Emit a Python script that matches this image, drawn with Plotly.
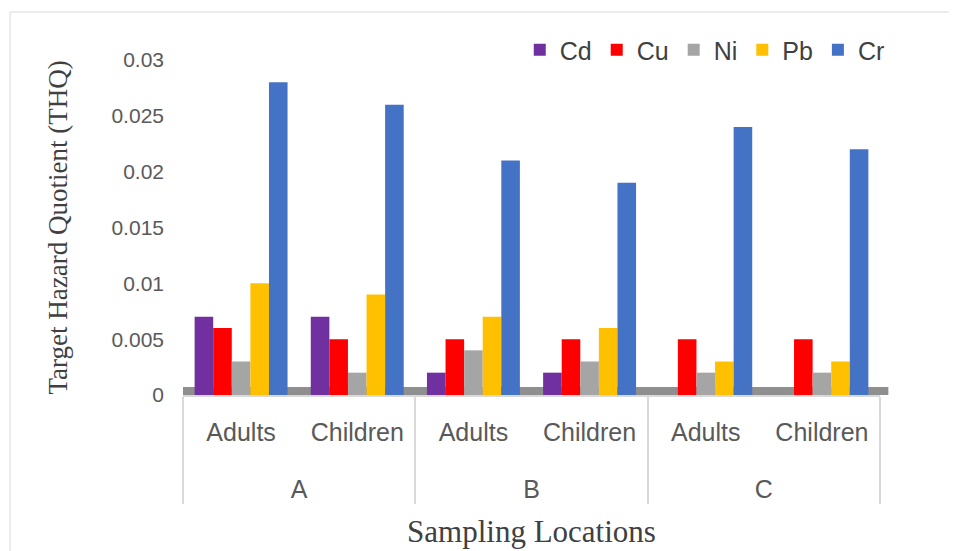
import plotly.graph_objects as go

locations = ["A", "A", "B", "B", "C", "C"]
groups = ["Adults", "Children", "Adults", "Children", "Adults", "Children"]
metals = ["Cd", "Cu", "Ni", "Pb", "Cr"]
cd = [0.007, 0.007, 0.002, 0.002, 0.0, 0.0]
cu = [0.006, 0.005, 0.005, 0.005, 0.005, 0.005]
ni = [0.003, 0.002, 0.004, 0.003, 0.002, 0.002]
pb = [0.010, 0.009, 0.007, 0.006, 0.003, 0.003]
cr = [0.028, 0.026, 0.021, 0.019, 0.024, 0.022]
values = [cd, cu, ni, pb, cr]
colors = ["#7030A0", "#FF0000", "#A5A5A5", "#FFC000", "#4472C4"]

# page has an 8px body margin
W, H = 949, 543
ml, mr, mt, mb = 175, 77, 52, 156
pw = W - ml - mr
ph = H - mt - mb

# label placement tweaks (layout only)
outer = ['<br><span style="baseline-shift:-9px">' + s + "</span>" for s in locations]
inner = ['<span style="baseline-shift:-14px">' + s + "</span>" for s in groups]

fig = go.Figure()
for name, vals, c in zip(metals, values, colors):
    fig.add_trace(go.Bar(
        x=[outer, inner], y=vals, name=name,
        marker=dict(color=c, line=dict(width=0)),
    ))

# outer chart border
fig.add_shape(type="rect", xref="paper", yref="paper",
              x0=(2 - ml) / pw, x1=(942 - ml) / pw,
              y0=(ph + mt - 550) / ph, y1=1 + (mt - 4) / ph,
              line=dict(color="#D9D9D9", width=1), fillcolor="rgba(0,0,0,0)", layer="below")
# floor band
fig.add_shape(type="rect", xref="paper", yref="paper",
              x0=0.0, x1=1.012, y0=0.0, y1=8 / ph,
              line=dict(width=0), fillcolor="#8F8F8F", layer="below")

serif = "Liberation Serif, Times New Roman, serif"
fig.update_layout(
    width=W, height=H,
    margin=dict(l=ml, r=mr, t=mt, b=mb, autoexpand=False),
    paper_bgcolor="white", plot_bgcolor="white",
    barmode="group", bargap=0.2, bargroupgap=0.0,
    font=dict(family="Liberation Sans, Arial, sans-serif", color="#595959"),
    legend=dict(orientation="h", x=1.014, xanchor="right", y=1 + (mt - 42) / ph, yanchor="middle",
                font=dict(size=25, color="#404040"), itemwidth=30,
                bgcolor="rgba(0,0,0,0)"),
    xaxis=dict(
        type="multicategory", automargin=False,
        showline=True, linecolor="#D9D9D9", linewidth=1.5,
        showdividers=True, dividercolor="#D9D9D9", dividerwidth=1.5,
        tickfont=dict(size=25, color="#595959"),
        title=dict(text="Sampling Locations", standoff=18,
                   font=dict(family=serif, size=31, color="#404040")),
    ),
    yaxis=dict(
        automargin=False,
        range=[0, 0.03], tickvals=[0, 0.005, 0.01, 0.015, 0.02, 0.025, 0.03],
        ticktext=["0", "0.005", "0.01", "0.015", "0.02", "0.025", "0.03"],
        showgrid=False, zeroline=False, showline=False,
        tickfont=dict(size=21, color="#595959"), ticks="",
        ticklabelstandoff=18,
        title=dict(text="Target Hazard Quotient (THQ)", standoff=35,
                   font=dict(family=serif, size=27, color="#404040")),
    ),
)

fig.write_html("out.html")
